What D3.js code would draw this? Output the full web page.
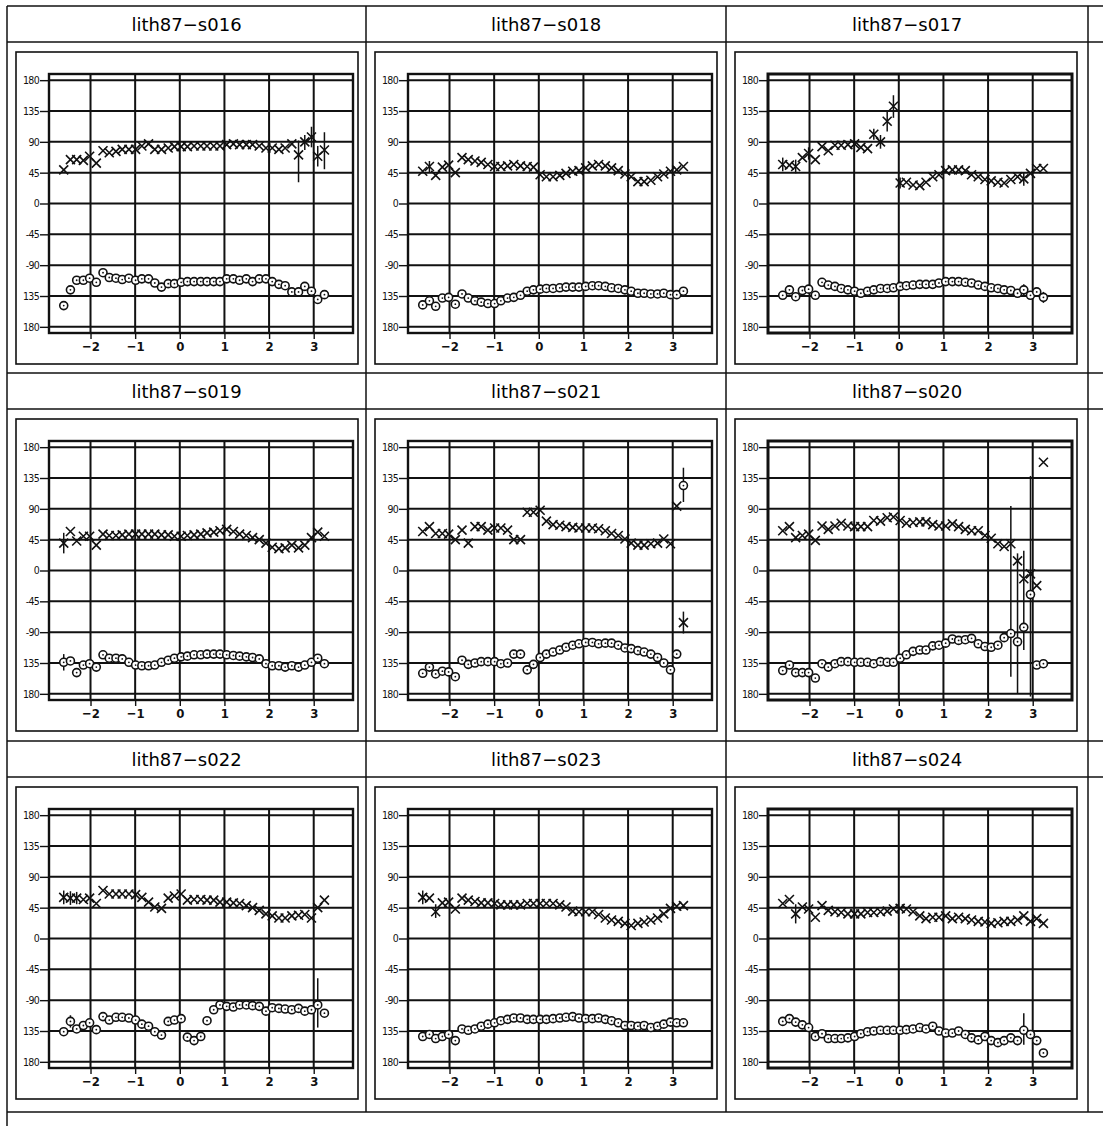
<!DOCTYPE html>
<html>
<head>
<meta charset="utf-8">
<script src="https://cdn.jsdelivr.net/npm/d3@7"></script>
<style>
  body { margin: 0; background: #fff; }
  svg { display: block; }
</style>
</head>
<body>
<script>
// phase values shared by every panel
var phase = [-2.60,-2.45,-2.31,-2.16,-2.02,-1.87,-1.72,-1.58,-1.43,-1.29,-1.14,-0.99,-0.85,-0.70,-0.56,-0.41,-0.26,-0.12,0.03,0.17,
             0.32,0.47,0.61,0.76,0.90,1.05,1.20,1.34,1.49,1.63,1.78,1.93,2.07,2.22,2.36,2.51,2.66,2.80,2.95,3.09,3.24];

var titles = ['lith87\u2212s016','lith87\u2212s018','lith87\u2212s017',
              'lith87\u2212s019','lith87\u2212s021','lith87\u2212s020',
              'lith87\u2212s022','lith87\u2212s023','lith87\u2212s024'];

var xTicks = [-2,-1,0,1,2,3];
var xTickLabels = ['\u22122','\u22121','0','1','2','3'];
var yTicks = [180,135,90,45,0,-45,-90,-135,-180];
var yTickLabels = ['180','135','90','45','0','-45','-90','135','180'];

// cross series (upper) and circle series (lower), degrees
var cross016 = [49,64,64,63,69,59,77,74,76,79,79,79,84,87,79,79,81,83,83,83,84,84,84,84,84,86,87,86,86,86,84,81,81,79,81,87,71,90,97,69,78];
var circ016 = [-149,-126,-112,-112,-109,-115,-101,-108,-109,-111,-109,-112,-110,-110,-116,-122,-117,-117,-115,-114,-114,-114,-114,-114,-114,-110,-110,-112,-110,-114,-110,-110,-114,-118,-120,-129,-129,-121,-128,-140,-133];
var err016 = [[36,31,92],[37,78,100],[38,82,112],[39,54,84],[40,50,104]];

var cross018 = [47,54,41,53,56,45,67,64,62,60,57,54,54,55,57,55,54,53,42,39,39,41,44,47,48,52,55,57,55,52,48,43,39,32,32,34,39,43,47,49,54];
var circ018 = [-148,-142,-150,-138,-137,-147,-132,-138,-142,-144,-146,-146,-142,-138,-137,-134,-128,-126,-125,-124,-124,-123,-122,-122,-122,-121,-120,-120,-121,-123,-124,-126,-128,-131,-131,-132,-132,-131,-133,-133,-128];
var err018 = [[1,46,62]];

var cross017 = [57,56,54,67,73,64,83,77,85,85,86,87,82,80,101,90,120,142,30,31,27,26,31,39,42,48,49,49,48,42,39,35,33,31,30,35,39,36,44,51,51];
var circ017 = [-134,-126,-136,-127,-125,-134,-115,-119,-121,-124,-126,-128,-131,-128,-126,-124,-124,-123,-121,-120,-119,-118,-118,-118,-116,-114,-114,-114,-115,-116,-119,-121,-123,-124,-126,-127,-131,-126,-134,-129,-137];
var err017 = [[0,47,67],[2,44,64],[4,64,82],[14,93,109],[15,80,100],[16,105,135],[17,125,158],[18,22,38],[37,26,46],[37,-134,-118],[40,-145,-129]];

var cross019 = [40,57,43,50,50,37,53,51,51,52,53,53,53,53,53,52,52,50,50,51,52,53,55,56,58,60,57,53,51,48,45,40,34,32,33,37,33,37,48,56,50];
var circ019 = [-134,-132,-149,-138,-136,-141,-123,-128,-128,-129,-134,-138,-139,-139,-138,-134,-131,-128,-126,-125,-123,-123,-122,-122,-122,-123,-124,-125,-126,-127,-129,-136,-139,-139,-141,-139,-141,-138,-134,-128,-136];
var err019 = [[0,25,55],[0,-146,-122]];

var cross021 = [57,64,54,54,53,45,59,40,64,64,59,62,62,59,45,45,85,85,88,72,67,66,64,63,62,62,62,61,58,54,51,46,40,37,37,39,40,46,39,94,-76];
var circ021 = [-150,-141,-151,-147,-148,-155,-131,-137,-135,-133,-133,-133,-136,-135,-122,-122,-145,-137,-127,-122,-119,-116,-112,-109,-107,-105,-105,-107,-106,-106,-109,-113,-114,-117,-119,-122,-127,-135,-145,-122,124];
var err021 = [[40,100,150],[40,-92,-60]];

var cross020 = [58,64,48,51,53,44,65,60,65,69,65,64,64,64,73,72,77,78,73,69,70,71,71,67,65,65,68,64,60,58,58,51,47,39,35,39,14,-12,-5,-22,158];
var circ020 = [-146,-138,-149,-149,-149,-157,-136,-141,-136,-133,-133,-134,-134,-134,-136,-133,-134,-134,-128,-123,-118,-116,-116,-110,-109,-106,-100,-102,-101,-99,-107,-111,-112,-109,-98,-92,-104,-83,-35,-138,-136];
var err020 = [[35,-155,94],[36,-179,25],[37,-116,29],[38,-184,138]];

var cross022 = [60,59,59,57,59,51,70,65,65,65,65,64,60,53,46,44,59,62,65,56,57,57,56,56,53,53,52,51,48,45,41,36,33,30,30,33,34,35,30,45,56];
var circ022 = [-136,-121,-132,-127,-123,-133,-114,-119,-115,-115,-116,-119,-125,-128,-136,-141,-121,-119,-117,-144,-149,-143,-120,-104,-97,-99,-100,-97,-97,-98,-99,-106,-101,-102,-103,-104,-102,-106,-104,-97,-109];
var err022 = [[0,50,70],[1,49,69],[2,50,68],[1,-130,-112],[39,-130,-58]];

var cross023 = [60,59,39,52,53,43,59,56,54,52,52,51,49,49,49,49,51,51,51,51,51,49,46,40,39,39,39,35,30,27,25,22,19,22,24,27,30,36,44,47,48];
var circ023 = [-143,-140,-146,-143,-140,-149,-132,-134,-132,-128,-125,-123,-120,-118,-116,-116,-118,-118,-118,-118,-117,-116,-115,-114,-116,-117,-117,-116,-118,-120,-123,-127,-127,-128,-127,-130,-128,-125,-122,-123,-123];
var err023 = [[0,50,70],[2,30,50]];

var cross024 = [51,57,36,46,43,31,48,41,39,38,36,36,36,38,38,39,40,43,44,43,39,33,29,31,31,33,29,31,29,27,25,24,22,23,25,25,27,33,25,29,22];
var circ024 = [-121,-117,-122,-126,-130,-143,-139,-146,-146,-146,-145,-143,-139,-136,-135,-134,-134,-134,-134,-133,-132,-130,-132,-128,-135,-138,-138,-135,-140,-145,-148,-143,-149,-152,-149,-145,-149,-134,-140,-149,-167];
var err024 = [[2,22,50],[37,-155,-109]];

var panels = [
  { title: titles[0], crosses: cross016, circles: circ016, errs: err016 },
  { title: titles[1], crosses: cross018, circles: circ018, errs: err018 },
  { title: titles[2], crosses: cross017, circles: circ017, errs: err017 },
  { title: titles[3], crosses: cross019, circles: circ019, errs: err019 },
  { title: titles[4], crosses: cross021, circles: circ021, errs: err021 },
  { title: titles[5], crosses: cross020, circles: circ020, errs: err020 },
  { title: titles[6], crosses: cross022, circles: circ022, errs: err022 },
  { title: titles[7], crosses: cross023, circles: circ023, errs: err023 },
  { title: titles[8], crosses: cross024, circles: circ024, errs: err024 }
];

var width = 1103, height = 1126;
var colLines = [7, 366, 726, 1088];
var rowLines = [6, 373, 741, 1112];

var svg = d3.select('body').append('svg')
    .attr('width', width)
    .attr('height', height);

// table grid
var table = svg.append('g').attr('stroke', '#111').attr('stroke-width', 1.5);
rowLines.forEach(function(t, i) {
    table.append('line').attr('x1', 7).attr('x2', width).attr('y1', t).attr('y2', t);
    if (i < 3) table.append('line').attr('x1', 7).attr('x2', width).attr('y1', t + 36).attr('y2', t + 36);
});
colLines.forEach(function(l, i) {
    table.append('line').attr('x1', l).attr('x2', l)
        .attr('y1', 6).attr('y2', i == 0 ? height : rowLines[3]);
});

var xMinor = d3.range(-29, 39).map(function(d) { return d / 10; }).filter(function(d) { return Math.abs(d - Math.round(d)) > 0.01; });
var yMinor = d3.range(-180, 181, 9).filter(function(d) { return d % 45 != 0; });

panels.forEach(function(p, i) {
    var L = colLines[i % 3], R = colLines[i % 3 + 1], T = rowLines[Math.floor(i / 3)];
    var g = svg.append('g');

    g.append('text')
        .attr('x', (L + R) / 2).attr('y', T + 25)
        .attr('text-anchor', 'middle')
        .style('font-family', 'DejaVu Sans, sans-serif')
        .style('font-size', '18px')
        .text(p.title);

    // inner frame
    g.append('rect')
        .attr('x', L + 9).attr('y', T + 46)
        .attr('width', 342).attr('height', 312)
        .attr('fill', 'none').attr('stroke', '#111').attr('stroke-width', 1.6);

    var x = d3.scaleLinear().domain([-2.93, 3.88]).range([L + 42, L + 346]);
    var y = d3.scaleLinear().domain([189, -189]).range([T + 68, T + 327]);

    // grid
    g.append('g').selectAll('line').data(xTicks).enter().append('line')
        .attr('x1', function(d) { return x(d); }).attr('x2', function(d) { return x(d); })
        .attr('y1', y(189)).attr('y2', y(-189))
        .attr('stroke', '#111').attr('stroke-width', 2);
    g.append('g').selectAll('line').data(yTicks).enter().append('line')
        .attr('x1', x(-2.93)).attr('x2', x(3.88))
        .attr('y1', function(d) { return y(d); }).attr('y2', function(d) { return y(d); })
        .attr('stroke', '#111').attr('stroke-width', 2);

    // axes
    var ax = g.append('g').attr('transform', 'translate(0,' + (T + 327) + ')');
    ax.call(d3.axisBottom(x).tickValues(xMinor).tickSize(4).tickFormat(''));
    ax.call(d3.axisBottom(x).tickValues(xTicks).tickSize(6).tickPadding(3)
        .tickFormat(function(d, j) { return xTickLabels[j]; }));
    ax.selectAll('.domain').remove();
    ax.selectAll('line').attr('stroke', '#111').attr('stroke-width', 1.4);
    ax.selectAll('text')
        .style('font-family', 'DejaVu Sans Condensed, DejaVu Sans, sans-serif')
        .style('font-size', '13px').style('font-weight', 'bold').attr('fill', '#111');

    var ay = g.append('g').attr('transform', 'translate(' + (L + 42) + ',0)');
    ay.call(d3.axisLeft(y).tickValues(yMinor).tickSize(3).tickFormat(''));
    ay.call(d3.axisLeft(y).tickValues(yTicks).tickSize(9).tickPadding(1)
        .tickFormat(function(d, j) { return yTickLabels[j]; }));
    ay.selectAll('.domain').remove();
    ay.selectAll('line').attr('stroke', '#111').attr('stroke-width', 1.4);
    ay.selectAll('text')
        .style('font-family', 'DejaVu Sans Condensed, DejaVu Sans, sans-serif')
        .style('font-size', '10.5px').style('letter-spacing', '-0.7px').attr('fill', '#111');

    // plot border
    g.append('rect')
        .attr('x', x(-2.93)).attr('y', y(189))
        .attr('width', x(3.88) - x(-2.93)).attr('height', y(-189) - y(189))
        .attr('fill', 'none').attr('stroke', '#111').attr('stroke-width', i % 3 == 2 ? 3 : 2.4);

    // error bars
    g.append('g').selectAll('line').data(p.errs).enter().append('line')
        .attr('x1', function(d) { return x(phase[d[0]]); })
        .attr('x2', function(d) { return x(phase[d[0]]); })
        .attr('y1', function(d) { return y(d[1]); })
        .attr('y2', function(d) { return y(d[2]); })
        .attr('stroke', '#111').attr('stroke-width', 1.5);

    // crosses
    g.append('g').selectAll('path').data(p.crosses).enter().append('path')
        .attr('transform', function(d, j) { return 'translate(' + x(phase[j]) + ',' + y(d) + ')'; })
        .attr('d', 'M-4.5,-4.5L4.5,4.5M-4.5,4.5L4.5,-4.5')
        .attr('stroke', '#111').attr('stroke-width', 1.6).attr('fill', 'none');

    // circles
    var c = g.append('g').selectAll('g').data(p.circles).enter().append('g')
        .attr('transform', function(d, j) { return 'translate(' + x(phase[j]) + ',' + y(d) + ')'; });
    c.append('circle').attr('r', 4)
        .attr('fill', '#fff').attr('stroke', '#111').attr('stroke-width', 1.6);
    c.append('circle').attr('r', 0.9).attr('fill', '#111');
});
</script>
</body>
</html>
